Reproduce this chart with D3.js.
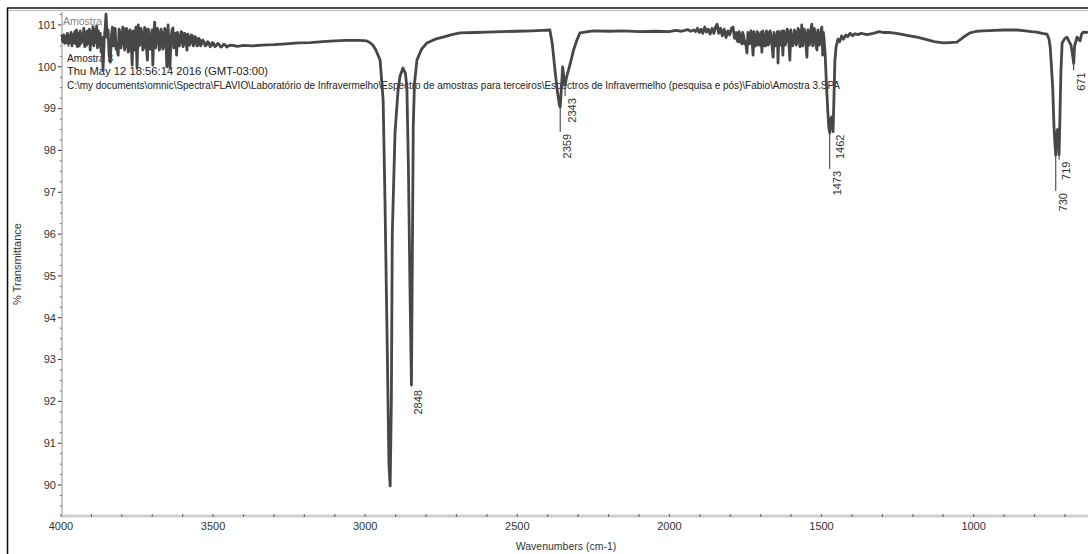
<!DOCTYPE html>
<html>
<head>
<meta charset="utf-8">
<script src="https://cdn.jsdelivr.net/npm/d3@7"></script>
<style>
  html, body { margin: 0; padding: 0; background: #fff; }
  svg { display: block; font-family: "Liberation Sans", Arial, sans-serif; }
</style>
</head>
<body>
<svg id="chart" width="1088" height="554"></svg>
<script>
// FTIR spectrum, [wavenumber (cm-1), % transmittance]
const spectrumOH = [
  [4000,100.62],[3997,100.74],[3994,100.60],[3991,100.76],[3988,100.56],[3985,100.72],[3982,100.58],
  [3979,100.80],[3976,100.55],[3973,100.74],[3970,100.60],[3967,100.82],[3964,100.50],[3961,100.76],
  [3958,100.58],[3955,100.84],[3952,100.55],[3949,100.88],[3946,100.48],[3943,100.80],[3940,100.50],
  [3937,100.86],[3934,100.56],[3931,100.78],[3928,100.60],[3925,100.92],[3922,100.48],[3919,100.82],
  [3916,100.52],[3913,100.86],[3910,100.56],[3907,100.90],[3904,100.40],[3901,100.84],[3898,100.55],
  [3895,100.96],[3892,100.50],[3889,100.88],[3886,100.58],[3883,100.98],[3880,100.45],[3877,100.86],
  [3874,100.50],[3871,100.80],[3868,100.35],[3865,100.70],[3862,99.92],[3858,100.65],[3855,100.90],
  [3852,101.26],[3848,100.70],[3845,100.88],[3842,100.30],[3838,100.11],[3834,100.75],[3831,100.95],
  [3828,100.50],[3825,100.85],[3822,100.92],[3819,100.42],[3816,100.45],[3812,100.28],[3809,100.90],
  [3806,100.80],[3803,100.45],[3800,100.58],[3797,100.95],[3794,100.90],[3791,100.40],[3788,100.50],
  [3785,100.92],[3782,100.85],[3779,100.35],[3776,100.40],[3773,100.88],[3770,100.70],[3766,100.04],
  [3763,100.86],[3760,100.75],[3757,100.40],[3754,100.95],[3750,99.97],[3746,101.00],[3743,100.50],
  [3740,100.55],[3737,100.92],[3734,100.80],[3731,100.40],[3728,100.45],[3725,100.94],[3722,100.90],
  [3719,100.45],[3716,100.16],[3713,100.90],[3710,100.75],[3707,100.42],[3704,100.50],[3701,100.88],
  [3698,100.04],[3695,100.80],[3692,101.07],[3689,100.45],[3686,100.65],[3683,100.92],[3680,100.82],
  [3677,100.40],[3674,100.48],[3671,100.90],[3668,100.78],[3665,100.42],[3662,100.55],[3659,100.92],
  [3656,100.85],[3652,100.00],[3648,101.00],[3645,100.45],[3642,99.97],[3638,100.70],[3635,100.88],
  [3632,100.93],[3629,100.45],[3626,100.50],[3623,100.80],[3620,100.28],[3617,100.82],[3614,100.72],
  [3611,100.50],[3608,100.60],[3605,100.84],[3602,100.82],[3599,100.48],[3596,100.55],[3593,100.80],
  [3590,100.75],[3586,100.40],[3583,100.78],[3580,100.70],[3577,100.52],[3574,100.58],[3571,100.76],
  [3568,100.74],[3565,100.50],[3562,100.56],[3559,100.72],[3556,100.68],[3553,100.50],[3550,100.52],
  [3547,100.68],[3544,100.64],[3541,100.50],[3538,100.55],[3534,100.64],[3530,100.60],[3526,100.50],
  [3522,100.52],[3518,100.60],[3514,100.58],[3510,100.48],[3506,100.50],[3502,100.58],[3498,100.55],
  [3494,100.48],[3490,100.50],[3485,100.56],[3480,100.53],[3475,100.47],[3470,100.49],[3465,100.54],
  [3460,100.52],[3455,100.47],[3450,100.50],[3440,100.52],[3420,100.49],[3400,100.51],[3370,100.50],
  [3340,100.52],[3300,100.53],[3260,100.55],[3220,100.57],[3180,100.58],[3140,100.60],[3100,100.62],
  [3060,100.63],[3020,100.63],[2995,100.62],[2985,100.58]
];
const spectrumCH = [
  [2975,100.52],[2965,100.40],[2951,100.16],[2941,99.20],[2935,96.80],[2928,93.50],[2922,90.50],
  [2918,89.98],[2914,92.00],[2911,96.00],[2902,98.42],[2892,99.44],[2886,99.76],[2876,99.97],
  [2868,99.85],[2863,99.52],[2858,97.60],[2853,94.80],[2848,92.39],[2845,95.50],[2842,98.60],
  [2838,99.60],[2830,100.16],[2815,100.42],[2797,100.57],[2770,100.66],[2744,100.71],[2715,100.77],
  [2688,100.81],[2640,100.82],[2600,100.83],[2550,100.84],[2500,100.85],[2450,100.86],[2420,100.87]
];
const spectrumCO2 = [
  [2393,100.88],[2385,100.55],[2376,99.90],[2368,99.40],[2362,99.10],[2359,99.04],[2355,99.50],
  [2351,100.00],[2347,99.75],[2343,99.56],[2338,99.75],[2327,100.05],[2315,100.40],[2304,100.64],
  [2294,100.81],[2251,100.86],[2200,100.85],[2150,100.86],[2100,100.84],[2050,100.85],[2000,100.84],
  [1980,100.87],[1960,100.85],[1940,100.89],[1930,100.85]
];
const spectrumMid = [
  [1920,100.88],[1914,100.84],[1908,100.92],[1902,100.82],[1896,100.90],[1890,100.80],[1884,100.95],
  [1878,100.83],[1872,100.90],[1866,100.78],[1860,100.92],[1854,100.80],[1848,100.96],[1843,101.02],
  [1838,100.80],[1832,100.92],[1826,100.74],[1820,100.90],[1814,100.70],[1808,100.86],[1802,100.76],
  [1796,100.92],[1791,100.95],[1786,100.68],[1780,100.82],[1777,100.62],[1774,100.60],[1771,100.84],
  [1768,100.78],[1765,100.58],[1762,100.55],[1759,100.82],[1756,100.74],[1753,100.55],[1750,100.62],
  [1745,100.33],[1742,100.82],[1740,100.72],[1737,100.55],[1735,100.58],[1732,100.86],[1730,100.80],
  [1725,100.28],[1722,100.84],[1720,100.70],[1717,100.50],[1714,100.52],[1711,100.84],[1708,100.78],
  [1705,100.52],[1702,100.60],[1699,100.82],[1696,100.35],[1693,100.86],[1690,100.74],[1687,100.50],
  [1684,100.50],[1681,100.86],[1678,100.82],[1675,100.52],[1672,100.58],[1669,100.86],[1666,100.76],
  [1659,100.23],[1656,100.82],[1654,100.70],[1651,100.50],[1648,100.55],[1645,100.84],[1643,100.09],
  [1640,100.84],[1638,100.74],[1635,100.52],[1632,100.60],[1630,100.86],[1627,100.28],[1624,100.86],
  [1622,100.80],[1619,100.52],[1616,100.62],[1613,100.90],[1610,100.84],[1607,100.55],[1604,100.16],
  [1601,100.88],[1598,100.72],[1595,100.50],[1592,100.58],[1589,100.88],[1586,100.82],[1583,100.52],
  [1580,100.60],[1577,100.92],[1574,100.85],[1571,100.48],[1568,100.52],[1565,101.00],[1562,100.50],
  [1560,100.66],[1557,100.90],[1554,100.80],[1551,100.50],[1548,100.23],[1545,100.88],[1543,100.76],
  [1540,100.52],[1538,100.62],[1535,100.90],[1532,101.02],[1529,100.50],[1527,100.58],[1524,100.92],
  [1521,100.80],[1518,100.50],[1515,100.40],[1512,100.88],[1510,100.74],[1507,100.52],[1504,100.62],
  [1501,100.90],[1499,100.95],[1496,100.28],[1494,100.82],[1492,100.70],
  [1488,100.30],[1484,99.60],[1479,98.90],[1476,98.55],[1473,98.42],[1470,98.75],[1467,98.80],
  [1464,98.60],[1462,98.45],[1459,99.30],[1456,100.15],[1452,100.48],[1446,100.66],[1440,100.60],
  [1434,100.74],[1428,100.66],[1420,100.76],[1414,100.72],[1406,100.80],[1398,100.74],[1390,100.79],
  [1380,100.77],[1370,100.80],[1350,100.77],[1330,100.80],[1310,100.84],[1298,100.82],[1280,100.82],
  [1265,100.81],[1240,100.78],[1210,100.74],[1186,100.71],[1160,100.66],[1130,100.60],[1100,100.57],
  [1080,100.58],[1055,100.59],[1035,100.70],[1012,100.81],[990,100.85],[969,100.86],[930,100.87],
  [900,100.88],[857,100.88],[830,100.86],[810,100.84],[792,100.83],[775,100.80],[759,100.78]
];
const spectrumLow = [
  [752,100.66],[748,100.45],[745,100.10],[740,99.50],[736,98.60],[733,98.20],[730,97.89],[727,98.40],
  [724,98.50],[721,98.20],[719,97.90],[716,98.90],[713,99.90],[709,100.57],[700,100.68],[693,100.71],
  [686,100.60],[680,100.52],[675,100.30],[671,100.08],[668,100.50],[660,100.71],[655,100.66],
  [650,100.62],[645,100.78],[640,100.83],[630,100.82],[624,100.84]
];

// labelled peak positions (cm-1)
const peakWavenumbers = [2848, 2359, 2343, 1473, 1462, 730, 719, 671];

const xTickValues = [4000, 3500, 3000, 2500, 2000, 1500, 1000];
const yTickValues = [90, 91, 92, 93, 94, 95, 96, 97, 98, 99, 100, 101];

const headerTitle = "Amostra";
const headerLines = [
  "FT",
  "Amostra 3",
  "Thu May 12 18:56:14 2016 (GMT-03:00)",
  "C:\\my documents\\omnic\\Spectra\\FLAVIO\\Laboratório de Infravermelho\\Espectro de amostras para terceiros\\Espectros de Infravermelho (pesquisa e pós)\\Fabio\\Amostra 3.SPA"
];

const xTitle = "Wavenumbers (cm-1)";
const yTitle = "% Transmittance";

// ---- drawing ----
const spectrum = [].concat(spectrumOH, spectrumCH, spectrumCO2, spectrumMid, spectrumLow);

const svg = d3.select("#chart");
const W = 1088, H = 554;
const plot = { left: 61, right: 1088, top: 12, bottom: 516 };

const x = d3.scaleLinear().domain([4000, 624]).range([plot.left, plot.right]);
const y = d3.scaleLinear().domain([101.31, 89.26]).range([plot.top, plot.bottom]);

const ink = "#474747";
const textColor = "#333";

// outer frame
svg.append("line").attr("x1", 7).attr("x2", W).attr("y1", 8).attr("y2", 8)
  .attr("stroke", "#111").attr("stroke-width", 1.6);
svg.append("line").attr("x1", 7).attr("x2", W).attr("y1", 10.5).attr("y2", 10.5)
  .attr("stroke", "#bbb").attr("stroke-width", 1);
svg.append("line").attr("x1", 7.5).attr("x2", 7.5).attr("y1", 8).attr("y2", H)
  .attr("stroke", "#111").attr("stroke-width", 1.6);

// y axis
const yAxisG = svg.append("g");
yAxisG.append("line").attr("x1", 62).attr("x2", 62).attr("y1", plot.top).attr("y2", plot.bottom)
  .attr("stroke", "#c8c8c8").attr("stroke-width", 2);
const yMinor = d3.range(89.5, 101.3, 0.25).filter(v => !Number.isInteger(v));
yAxisG.selectAll(".ymin").data(yMinor).join("line")
  .attr("x1", 60).attr("x2", 61.5).attr("y1", d => y(d)).attr("y2", d => y(d))
  .attr("stroke", "#555").attr("stroke-width", 1);
yAxisG.selectAll(".ymaj").data(yTickValues).join("line")
  .attr("x1", 58).attr("x2", 61.5).attr("y1", d => y(d)).attr("y2", d => y(d))
  .attr("stroke", "#333").attr("stroke-width", 1);
yAxisG.selectAll(".ylab").data(yTickValues).join("text")
  .attr("x", 56).attr("y", d => y(d)).attr("dy", "0.35em")
  .attr("text-anchor", "end").attr("font-size", 11).attr("fill", textColor)
  .text(d => d);

// x axis
const xAxisG = svg.append("g");
xAxisG.append("line").attr("x1", plot.left).attr("x2", plot.right).attr("y1", 516).attr("y2", 516)
  .attr("stroke", "#cfcfcf").attr("stroke-width", 3);
const xMinor = d3.range(4000, 600, -100);
xAxisG.selectAll(".xt").data(xMinor).join("line")
  .attr("x1", d => x(d)).attr("x2", d => x(d)).attr("y1", 514.5).attr("y2", 516.5)
  .attr("stroke", "#444").attr("stroke-width", 1.2);
xAxisG.selectAll(".xlab").data(xTickValues).join("text")
  .attr("x", d => x(d)).attr("y", 526).attr("dy", "0.35em")
  .attr("text-anchor", "middle").attr("font-size", 11).attr("fill", textColor)
  .text(d => d);

// axis titles
svg.append("text").attr("x", 566).attr("y", 546).attr("dy", "0.35em")
  .attr("text-anchor", "middle").attr("font-size", 10.5).attr("fill", textColor).text(xTitle);
svg.append("text").attr("transform", `translate(17,${(plot.top + plot.bottom) / 2}) rotate(-90)`)
  .attr("dy", "0.35em").attr("text-anchor", "middle").attr("font-size", 11)
  .attr("fill", textColor).text(yTitle);

// header block (drawn beneath the spectrum)
svg.append("text").attr("x", 63).attr("y", 25).attr("font-size", 10.5).attr("fill", "#888")
  .text(headerTitle);
const headerY = [47, 62, 75, 89];
const headerWidth = [null, 46, 201, 773];
svg.selectAll(".hdr").data(headerLines).join("text")
  .attr("x", 67).attr("y", (d, i) => headerY[i]).attr("font-size", 10.5).attr("fill", "#222")
  .each(function (d, i) {
    if (headerWidth[i]) {
      d3.select(this).attr("textLength", headerWidth[i]).attr("lengthAdjust", "spacingAndGlyphs");
    }
  })
  .text(d => d);

// spectrum trace
svg.append("clipPath").attr("id", "plotClip").append("rect")
  .attr("x", plot.left).attr("y", plot.top - 4).attr("width", plot.right - plot.left)
  .attr("height", plot.bottom - plot.top + 4);
const line = d3.line().x(d => x(d[0])).y(d => y(d[1]));
svg.append("path").datum(spectrum).attr("clip-path", "url(#plotClip)")
  .attr("d", line).attr("fill", "none").attr("stroke", ink)
  .attr("stroke-width", 2.8).attr("stroke-linejoin", "round");

// peak labels: leader drop below each tip, staggered where peaks crowd
const leaderDrop = { 2848: 3, 2359: 25, 2343: 11, 1473: 36, 1462: 1, 730: 36, 719: 5, 671: 7 };
const peaks = peakWavenumbers.map(wn => {
  const pt = spectrum.find(p => p[0] === wn);
  return { wn, t: pt[1] };
});
const peakG = svg.append("g");
peaks.forEach(p => {
  const px = x(p.wn), py = y(p.t);
  const drop = leaderDrop[p.wn];
  if (drop > 4) {
    peakG.append("line").attr("x1", px).attr("x2", px).attr("y1", py + 1).attr("y2", py + drop)
      .attr("stroke", "#333").attr("stroke-width", 1);
  }
  peakG.append("text")
    .attr("transform", `translate(${px + 7},${py + drop + 2}) rotate(-90)`)
    .attr("text-anchor", "end").attr("dominant-baseline", "central")
    .attr("font-size", 11).attr("fill", textColor)
    .text(p.wn);
});
</script>
</body>
</html>
